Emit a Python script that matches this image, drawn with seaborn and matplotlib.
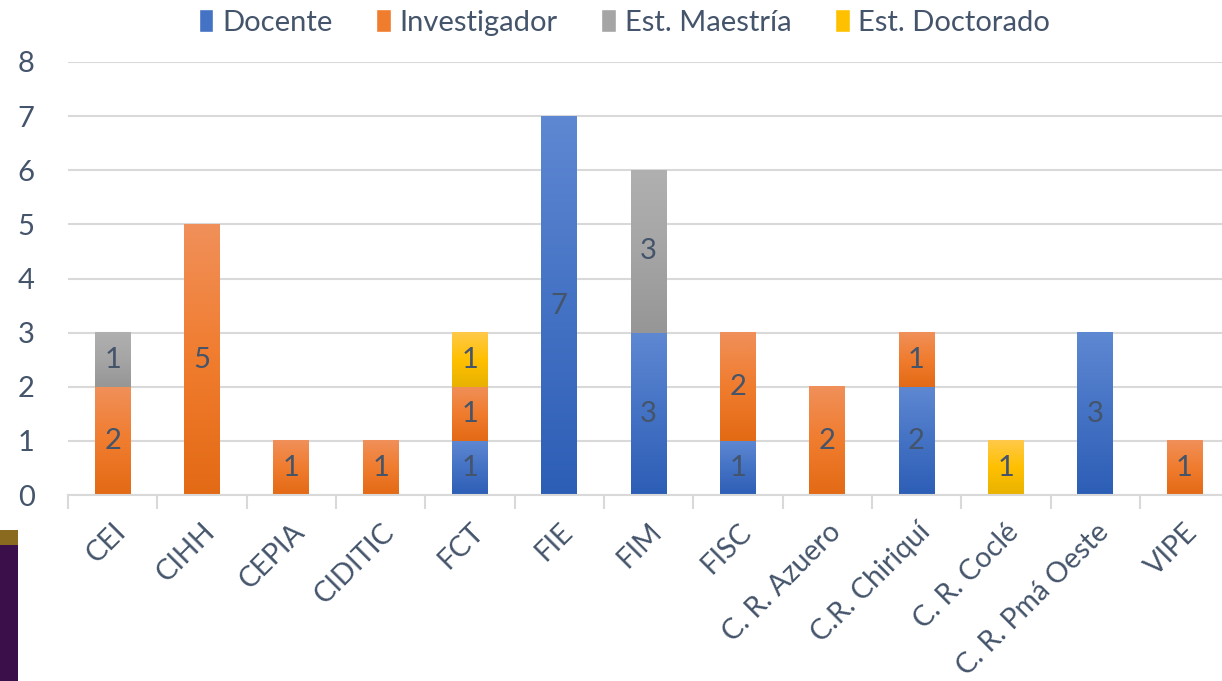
import numpy as np
import pandas as pd
import seaborn as sns
import matplotlib.pyplot as plt
from matplotlib.colors import LinearSegmentedColormap, to_rgb
from matplotlib.patches import Patch, Rectangle
from matplotlib.ticker import FixedLocator

categories = ["CEI", "CIHH", "CEPIA", "CIDITIC", "FCT", "FIE", "FIM", "FISC",
              "C. R. Azuero", "C.R. Chiriquí", "C. R. Coclé", "C. R. Pmá Oeste", "VIPE"]
series = ["Docente", "Investigador", "Est. Maestría", "Est. Doctorado"]
docente = [0, 0, 0, 0, 1, 7, 3, 1, 0, 2, 0, 3, 0]
investigador = [2, 5, 1, 1, 1, 0, 0, 2, 2, 1, 0, 0, 1]
maestria = [1, 0, 0, 0, 0, 0, 3, 0, 0, 0, 0, 0, 0]
doctorado = [0, 0, 0, 0, 1, 0, 0, 0, 0, 0, 1, 0, 0]
y_ticks = [0, 1, 2, 3, 4, 5, 6, 7, 8]

# colour ramps (bottom -> top) to mimic the office-style gradient fill
ramps = {
    "Docente": ["#2D5EB6", "#4472C4", "#5F88D2"],
    "Investigador": ["#E36A15", "#F07C2E", "#F0905A"],
    "Est. Maestría": ["#969696", "#A5A5A5", "#B0B0B0"],
    "Est. Doctorado": ["#E8B200", "#FFC000", "#FFC94A"],
}
palette = {k: v[1] for k, v in ramps.items()}
text_color = "#44546A"
grid_color = "#D9D9D9"
fs = 21

rows = []
for name, vals in zip(series, [docente, investigador, maestria, doctorado]):
    for cat, v in zip(categories, vals):
        rows.append({"cat": cat, "serie": name, "n": v})
df = pd.DataFrame(rows)

sns.set_theme(style="white")
plt.rcParams["font.family"] = ["Lato", "DejaVu Sans"]

fig = plt.figure(figsize=(12.22, 6.81), dpi=100)
ax = fig.add_axes([68 / 1222, 1 - 495 / 681, 1 - 68 / 1222, (495 - 62) / 681])

sns.histplot(data=df, x="cat", weights="n", hue="serie",
             hue_order=series[::-1], palette=palette, multiple="stack",
             discrete=True, shrink=0.4, alpha=1, linewidth=0, legend=False, ax=ax)

# gradient overlay on each bar
for patch in list(ax.patches):
    h = patch.get_height()
    if h <= 0:
        continue
    fc = np.array(patch.get_facecolor()[:3])
    name = min(palette, key=lambda k: np.abs(np.array(to_rgb(palette[k])) - fc).sum())
    cmap = LinearSegmentedColormap.from_list(name, ramps[name])
    x0, y0 = patch.get_x(), patch.get_y()
    grad = np.linspace(0, 1, 256).reshape(-1, 1)
    ax.imshow(grad, extent=(x0, x0 + patch.get_width(), y0, y0 + h), origin="lower",
              aspect="auto", cmap=cmap, zorder=2)

ax.set_xlim(-0.5, 12.42)
ax.set_ylim(0, 8)

for cont in ax.containers:
    labels = [f"{int(round(v))}" if v > 0 else "" for v in cont.datavalues]
    ax.bar_label(cont, labels=labels, label_type="center", color=text_color,
                 fontsize=fs, zorder=5)
for t in ax.texts:
    t.set_zorder(5)

ax.set_yticks(y_ticks)
ax.yaxis.grid(True, color=grid_color, linewidth=1.5)
ax.set_axisbelow(True)
for s in ["top", "right", "left"]:
    ax.spines[s].set_visible(False)
ax.spines["bottom"].set_color(grid_color)
ax.spines["bottom"].set_linewidth(1.5)

ax.set_xticks(range(len(categories)))
ax.set_xticklabels(categories, rotation=45, ha="right", rotation_mode="anchor",
                   fontsize=20.5, color=text_color)
ax.xaxis.set_minor_locator(FixedLocator(np.arange(-0.5, len(categories), 1.0)))
ax.tick_params(axis="x", which="major", length=0, pad=17)
ax.tick_params(axis="x", which="minor", length=10, width=1.5, color=grid_color, direction="out", bottom=True)
ax.tick_params(axis="y", length=0, pad=24, labelsize=fs, labelcolor=text_color)
ax.set_xlabel("")
ax.set_ylabel("")

handles = [Patch(facecolor=palette[s], label=s) for s in series]
fig.legend(handles=handles, loc="upper center", bbox_to_anchor=(0.511, 1.025), ncol=4,
           frameon=False, fontsize=fs, labelcolor=text_color, handlelength=0.5,
           handleheight=0.8, handletextpad=0.3, columnspacing=1.5)

# photo fragment in bottom left corner of the original slide
fig.patches.append(Rectangle((0, 0), 18 / 1222, (681 - 545) / 681, transform=fig.transFigure,
                             facecolor="#3B0F4A", edgecolor="none"))
fig.patches.append(Rectangle((0, (681 - 545) / 681), 18 / 1222, 15 / 681, transform=fig.transFigure,
                             facecolor="#8A6A1E", edgecolor="none"))

fig.savefig("out.png", dpi=100)
